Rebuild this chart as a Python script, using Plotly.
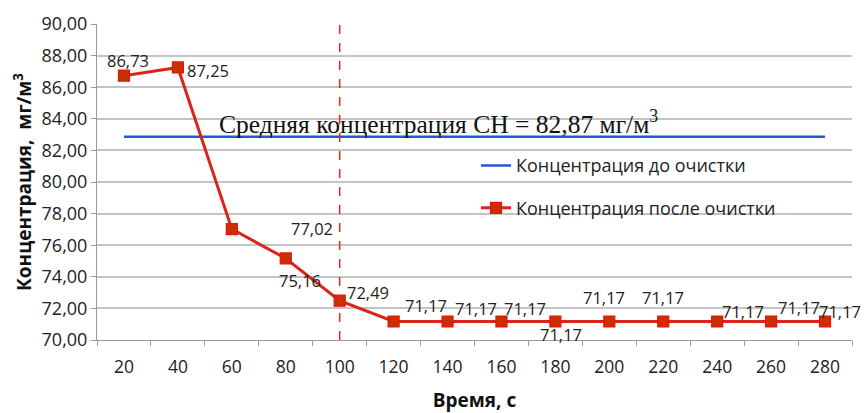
import plotly.graph_objects as go

# Time points (s) and concentration after cleaning (mg/m3)
times = ["20", "40", "60", "80", "100", "120", "140", "160", "180", "200", "220", "240", "260", "280"]
after_cleaning = [86.73, 87.25, 77.02, 75.16, 72.49, 71.17, 71.17, 71.17, 71.17, 71.17, 71.17, 71.17, 71.17, 71.17]
mean_before = 82.87
marker_time = "100"
y_ticks = [70, 72, 74, 76, 78, 80, 82, 84, 86, 88, 90]

# label offsets (px) for each point's value label
label_dx = [4, 30, 80, 14, 28, 32, 28, 24, 6, -5, 0, 26, 28, 15]
label_dy = [15, -3, 1, -22, 8, 16, 13, 13, -13, 24, 24, 10, 14, 10]

RED = "#D8261A"
BLUE = "#2558D6"
GRID = "#C4C4C4"
SANS = "Open Sans, Noto Sans, sans-serif"

fig = go.Figure()

fig.add_trace(go.Scatter(
    x=times, y=[mean_before] * len(times), mode="lines",
    line=dict(color=BLUE, width=2.5),
    name="Концентрация до очистки", legendgroup="a",
))
fig.add_trace(go.Scatter(
    x=times, y=after_cleaning, mode="lines+markers",
    line=dict(color=RED, width=3),
    marker=dict(symbol="square", size=11, color="#C83000", line=dict(color="#E8120A", width=1.2)),
    name="Концентрация после очистки", legendgroup="b",
))
fig.add_trace(go.Scatter(
    x=[marker_time, marker_time], y=[y_ticks[0], y_ticks[-1]], mode="lines",
    line=dict(color="#E8261A", width=1.5, dash="dash"),
    showlegend=False, hoverinfo="skip",
))

for i, (v, dx, dy) in enumerate(zip(after_cleaning, label_dx, label_dy)):
    fig.add_annotation(
        x=i, y=v, xref="x", yref="y", text=f"{v:.2f}".replace(".", ","), showarrow=False,
        xshift=dx, yshift=dy, font=dict(family=SANS, size=16.5, color="#222"),
    )

fig.add_annotation(
    x=0.452, xref="paper", y=mean_before, yref="y", yanchor="bottom", yshift=-4,
    text=f"Средняя концентрация СН = {mean_before:.2f}".replace(".", ",") + " мг/м<sup>3</sup>",
    showarrow=False, font=dict(family="Liberation Serif, Times New Roman, serif", size=25.5, color="#111"),
)

fig.update_layout(
    width=864, height=413,
    margin=dict(l=97, r=12, t=24, b=73),
    paper_bgcolor="white", plot_bgcolor="white",
    separators=",.",
    showlegend=True,
    legend=dict(
        x=0.502, y=0.61, xanchor="left", yanchor="top",
        font=dict(family=SANS, size=18, color="#222"),
        tracegroupgap=16, traceorder="grouped",
        bgcolor="rgba(0,0,0,0)",
    ),
    xaxis=dict(
        type="category", range=[-0.5, len(times) - 0.5], automargin=False,
        tickson="boundaries", ticks="outside", ticklen=5, tickcolor="#9A9A9A",
        showline=True, linecolor="#9A9A9A", linewidth=1,
        showgrid=False, ticklabelstandoff=11,
        tickfont=dict(family=SANS, size=17.5, color="#222"),
        title=dict(text="<b>Время, с</b>", font=dict(family=SANS, size=19, color="#111"), standoff=21),
    ),
    yaxis=dict(
        range=[y_ticks[0], y_ticks[-1]], tickvals=y_ticks, tickformat=".2f", automargin=False,
        ticks="outside", ticklen=5, tickcolor="#9A9A9A",
        showline=True, linecolor="#9A9A9A", linewidth=1,
        showgrid=True, gridcolor=GRID, gridwidth=1.5,
        tickfont=dict(family=SANS, size=18, color="#222"),
        title=dict(text="<b>Концентрация,  мг/м<sup>3</sup></b>", font=dict(family=SANS, size=19, color="#111"), standoff=4),
    ),
)

fig.write_html("out.html")
